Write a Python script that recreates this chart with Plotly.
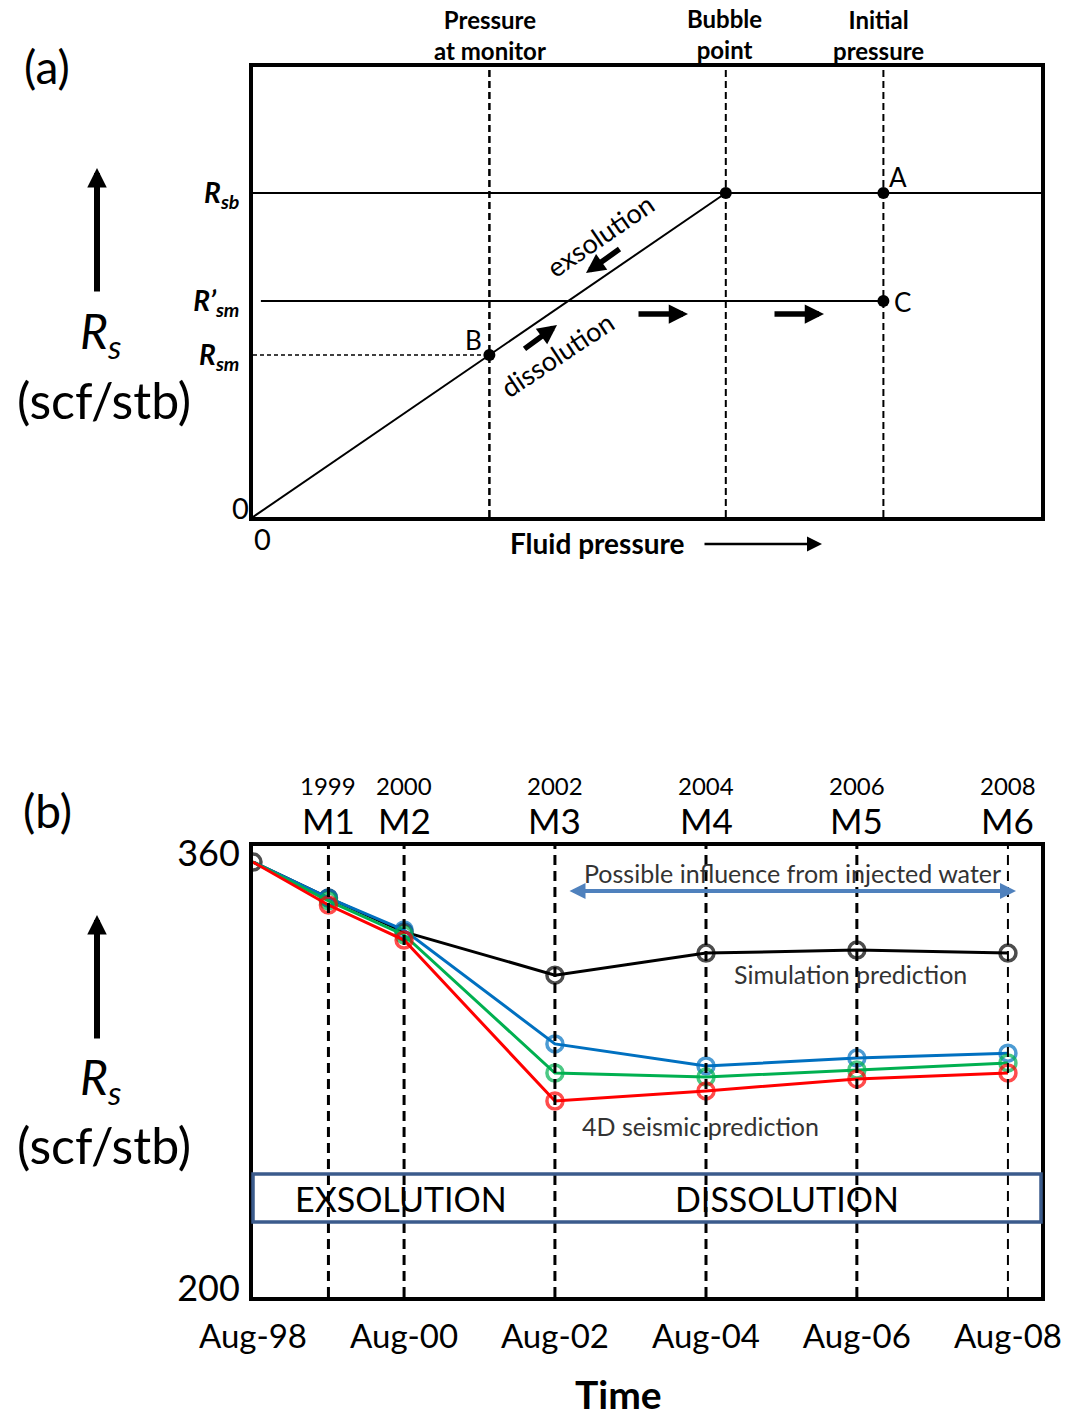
import plotly.graph_objects as go

# ---------------- data ----------------
# (a) schematic: solution gas-oil ratio vs fluid pressure (arbitrary units)
p_monitor = 3.0
p_bubble = 6.0
p_initial = 8.0
p_max = 10.0
Rs_sb = 7.2          # R_sb
Rs_sm_prime = 4.8    # R'_sm
Rs_sm = 3.6          # R_sm
Rs_max = 10.0

a_ticks = [Rs_sm, Rs_sm_prime, Rs_sb]
a_ticktext = ["<b><i>R<sub>sm</sub></i></b>",
              "<b><i>R’<sub>sm</sub></i></b>",
              "<b><i>R<sub>sb</sub></i></b>"]

# (b) time series of Rs (scf/stb)
dates = ["1998-08-01", "1999-08-01", "2000-08-01", "2002-08-01",
         "2004-08-01", "2006-08-01", "2008-08-01"]
simulation = [360, 346.8, 334.3, 318.4, 326.5, 327.6, 326.5]
seismic_blue = [360, 346.8, 335.0, 293.1, 285.0, 287.9, 289.7]
seismic_green = [360, 345.7, 333.2, 282.4, 280.9, 283.5, 286.1]
seismic_red = [360, 344.2, 331.3, 272.1, 275.8, 280.2, 282.4]

monitor_dates = ["1999-08-01", "2000-08-01", "2002-08-01",
                 "2004-08-01", "2006-08-01", "2008-08-01"]
monitor_years = ["1999", "2000", "2002", "2004", "2006", "2008"]
monitor_names = ["M1", "M2", "M3", "M4", "M5", "M6"]

b_tickvals = ["1998-08-01", "2000-08-01", "2002-08-01",
              "2004-08-01", "2006-08-01", "2008-08-01"]
b_ticktext = ["Aug-98", "Aug-00", "Aug-02", "Aug-04", "Aug-06", "Aug-08"]
b_yticks = [200, 360]

# ---------------- layout helpers ----------------
W, H = 1071, 1418
FONT = "Lato"


def fx(px):
    return px / W


def fy(py):
    return 1 - py / H


annotations = []


def text(x, y, s, size, bold=False, color="black", angle=0, xref="paper", xanchor="center"):
    if bold:
        s = "<b>" + s + "</b>"
    annotations.append(dict(
        x=x if xref != "paper" else fx(x), y=fy(y), xref=xref, yref="paper",
        text=s, showarrow=False, xanchor=xanchor, yanchor="middle",
        textangle=angle, font=dict(family=FONT, size=size, color=color)))


def arrow(tail, head, width, color="black", size=1.0, both=False, head_style=2):
    annotations.append(dict(
        x=fx(head[0]), y=fy(head[1]), xref="paper", yref="paper",
        ax=tail[0] - head[0], ay=tail[1] - head[1], axref="pixel", ayref="pixel",
        text="", showarrow=True, arrowhead=head_style, arrowsize=size,
        arrowwidth=width, arrowcolor=color, standoff=0, startstandoff=0,
        arrowside="end+start" if both else "end", startarrowhead=head_style,
        startarrowsize=size))


fig = go.Figure()

# ---------------- panel (a) ----------------
fig.add_trace(go.Scatter(x=[0, p_bubble], y=[0, Rs_sb], mode="lines",
                         line=dict(color="black", width=2), xaxis="x", yaxis="y"))
fig.add_trace(go.Scatter(x=[0, p_max], y=[Rs_sb, Rs_sb], mode="lines",
                         line=dict(color="black", width=2), xaxis="x", yaxis="y"))
fig.add_trace(go.Scatter(x=[0.1, p_initial], y=[Rs_sm_prime, Rs_sm_prime], mode="lines",
                         line=dict(color="black", width=2), xaxis="x", yaxis="y"))
fig.add_trace(go.Scatter(x=[0, p_monitor], y=[Rs_sm, Rs_sm], mode="lines",
                         line=dict(color="black", width=1.5, dash="4px,3px"),
                         xaxis="x", yaxis="y"))
fig.add_trace(go.Scatter(x=[p_monitor, p_bubble, p_initial, p_initial],
                         y=[Rs_sm, Rs_sb, Rs_sb, Rs_sm_prime], mode="markers",
                         marker=dict(color="black", size=12), xaxis="x", yaxis="y"))

shapes = []
for p, w in [(p_monitor, 2.5), (p_bubble, 2), (p_initial, 2)]:
    shapes.append(dict(type="line", xref="x", yref="y domain", x0=p, x1=p, y0=0, y1=1,
                       line=dict(color="black", width=w, dash="7px,4px"), layer="above"))

# ---------------- panel (b) ----------------
for ys, col in [(simulation, "black"), (seismic_blue, "#0070C0"),
                (seismic_green, "#00B050"), (seismic_red, "#FF0000")]:
    sizes = [16] * len(ys) if col == "black" else [0] + [16] * (len(ys) - 1)
    fig.add_trace(go.Scatter(
        x=dates, y=ys, mode="lines+markers", xaxis="x2", yaxis="y2",
        line=dict(color=col, width=3),
        marker=dict(symbol="circle-open", size=sizes, color=col, line=dict(width=3.5, color=col))))

for i, d in enumerate(monitor_dates):
    shapes.append(dict(type="line", xref="x2", yref="y2 domain", x0=d, x1=d, y0=0, y1=1,
                       line=dict(color="black", width=3 if i < 5 else 2, dash="10px,6px"),
                       layer="above"))

# exsolution / dissolution band
shapes.append(dict(type="rect", xref="paper", yref="paper",
                   x0=fx(253), x1=fx(1041), y0=fy(1222), y1=fy(1174),
                   line=dict(color="#3B5B8C", width=3.5), layer="above"))

# ---------------- annotations (a) ----------------
text(47, 66, "(a)", 46)
text(490, 35, "Pressure<br>at monitor", 24, bold=True)
text(724, 34, "Bubble<br>point", 24, bold=True)
text(878, 35, "Initial<br>pressure", 24, bold=True)
text(898, 177, "A", 26)
text(473, 340, "B", 26)
text(902, 302, "C", 26)
text(240, 507, "0", 29)
text(262, 538, "0", 29)
text(597, 543, "Fluid pressure", 28, bold=True)
text(600, 236, "exsolution", 27, angle=-34.5)
text(557, 355, "dissolution", 27, angle=-33.5)
text(100, 334, "<i>R<sub>s</sub></i>", 48)
text(104, 400, "(scf/stb)", 50)

arrow((97, 293), (97, 168), 6, size=0.65)
arrow((703, 544), (822, 544), 2.5, size=1.2)
arrow((621, 248), (586, 273), 5.5, size=0.7)
arrow((523, 350), (557, 325), 5.5, size=0.7)
arrow((637, 314), (688, 314), 5.5, size=0.7)
arrow((773, 314), (824, 314), 5.5, size=0.7)

# ---------------- annotations (b) ----------------
text(47, 810, "(b)", 46)
for d, yr, m in zip(monitor_dates, monitor_years, monitor_names):
    text(d, 785, yr, 24, xref="x2")
    text(d, 820, m, 35, xref="x2")
text(792, 873, "Possible influence from injected water", 25, color="#333333")
text(850, 974, "Simulation prediction", 25, color="#333333")
text(700, 1126, "4D seismic prediction", 25, color="#333333")
text(401, 1198, "EXSOLUTION", 34)
text(787, 1198, "DISSOLUTION", 34)
text(619, 1394, "Time", 39, bold=True)
text(100, 1080, "<i>R<sub>s</sub></i>", 48)
text(104, 1145, "(scf/stb)", 50)
arrow((97, 1040), (97, 915), 6, size=0.65)
arrow((568, 891), (1016, 891), 4, color="#4F81BD", size=0.8, both=True)

axis_line = dict(showline=True, mirror=True, linewidth=4, linecolor="black",
                 showgrid=False, zeroline=False, automargin=False)

fig.update_layout(
    width=W, height=H, autosize=False,
    margin=dict(l=0, r=0, t=0, b=0, autoexpand=False),
    paper_bgcolor="white", plot_bgcolor="white",
    showlegend=False,
    shapes=shapes, annotations=annotations,
    xaxis=dict(domain=[fx(253), fx(1041)], range=[0, p_max], showticklabels=False,
               ticks="", anchor="y", **axis_line),
    yaxis=dict(domain=[fy(517), fy(67)], range=[0, Rs_max], tickmode="array",
               tickvals=a_ticks, ticktext=a_ticktext, ticks="", ticklabelstandoff=4,
               tickfont=dict(family=FONT, size=28, color="black"), anchor="x", **axis_line),
    xaxis2=dict(domain=[fx(253), fx(1041)], type="date",
                range=["1998-08-01", "2009-01-08"], tickmode="array",
                tickvals=b_tickvals, ticktext=b_ticktext, ticks="",
                ticklabelstandoff=7, tickfont=dict(family=FONT, size=33, color="black"),
                anchor="y2", **axis_line),
    yaxis2=dict(domain=[fy(1297), fy(846)], range=[200, 365.9], tickmode="array",
                tickvals=b_yticks, ticktext=[str(v) for v in b_yticks], ticks="",
                ticklabelstandoff=2, ticklabelshift=-9,
                tickfont=dict(family=FONT, size=36, color="black"), anchor="x2", **axis_line),
)

fig.write_html("out.html")
